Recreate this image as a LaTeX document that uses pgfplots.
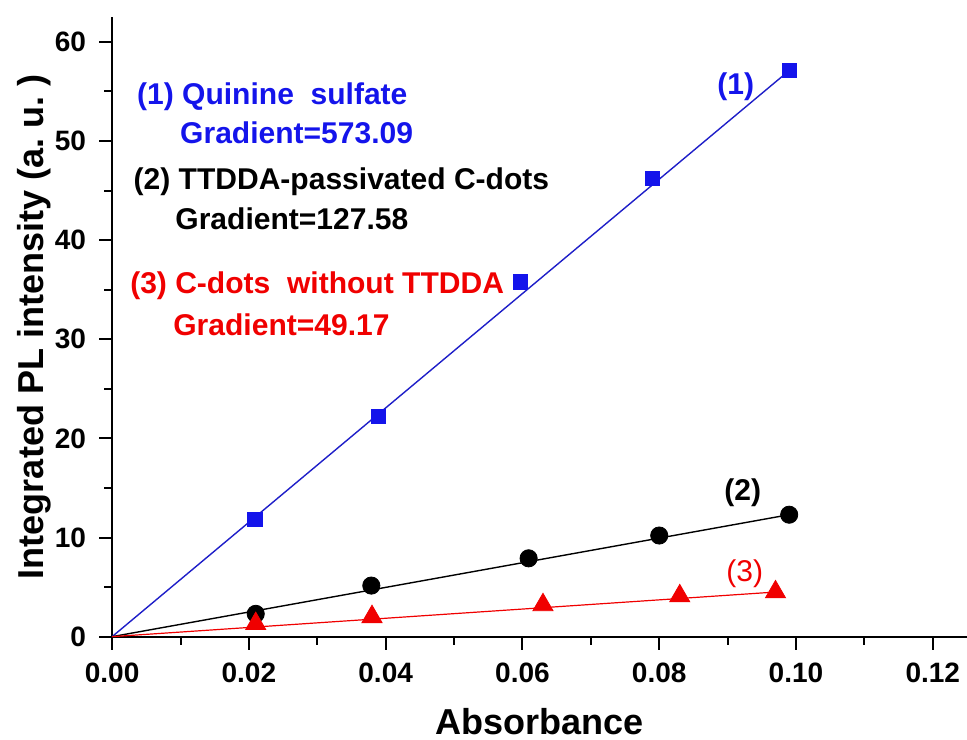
\documentclass[border=0pt]{standalone}
\usepackage{pgfplots}
\pgfplotsset{compat=1.18}
\usepackage{fontspec}
\setmainfont{Liberation Sans}
\definecolor{qblue}{RGB}{20,20,235}
\definecolor{lblue}{RGB}{30,30,200}
\definecolor{qred}{RGB}{240,0,0}
\begin{document}
\begin{tikzpicture}
\begin{axis}[
  scale only axis,
  width=427pt, height=309.5pt,
  xmin=0, xmax=0.125, ymin=0, ymax=62.5,
  axis x line=bottom, axis y line=left,
  axis line style={-, line width=1pt},
  xtick={0,0.02,0.04,0.06,0.08,0.10,0.12},
  xticklabels={0.00,0.02,0.04,0.06,0.08,0.10,0.12},
  ytick={0,10,20,30,40,50,60},
  minor xtick={0.01,0.03,0.05,0.07,0.09,0.11},
  minor ytick={5,15,25,35,45,55},
  tick align=outside,
  major tick length=6.5pt, minor tick length=4pt,
  every tick/.style={black, line width=1pt},
  /pgf/number format/assume math mode=true,
  ticklabel style={font=\fontsize{14}{16}\selectfont\bfseries},
  xticklabel style={yshift=-3pt},
  yticklabel style={xshift=-3pt},
  xlabel={Absorbance},
  ylabel={Integrated PL intensity (a.\ u.\ )},
  label style={font=\fontsize{18}{22}\selectfont\bfseries},
  xlabel style={yshift=-6pt},
  ylabel style={yshift=-5pt},
  clip=false,
]
% fitted lines
\addplot[lblue, line width=0.7pt] coordinates {(0,0) (0.099,57.1)};
\addplot[black, line width=0.7pt] coordinates {(0,0) (0.099,12.3)};
\addplot[qred, line width=0.6pt] coordinates {(0,0) (0.097,4.5)};
% data
\addplot[only marks, mark=square*, mark size=3.6pt, qblue] coordinates {
 (0.0209,11.8) (0.0389,22.2) (0.0597,35.8) (0.079,46.2) (0.099,57.1)};
\addplot[only marks, mark=*, mark size=4.3pt, black] coordinates {
 (0.021,2.3) (0.0379,5.15) (0.0609,7.9) (0.080,10.2) (0.099,12.3)};
\addplot[only marks, mark=triangle*, mark size=5.8pt, qred] coordinates {
 (0.021,1.3) (0.038,2.0) (0.063,3.2) (0.083,4.1) (0.097,4.5)};
% annotations
\begin{scope}[every node/.style={font=\fontsize{15}{18}\selectfont\bfseries, inner sep=0pt, anchor=west}]
\node[text=qblue] at (axis cs:0.0036,54.5) {(1) Quinine\ \ sulfate};
\node[text=qblue] at (axis cs:0.0099,50.8) {Gradient=573.09};
\node[text=black] at (axis cs:0.0031,45.9) {(2) TTDDA-passivated C-dots};
\node[text=black] at (axis cs:0.0092,42.1) {Gradient=127.58};
\node[text=qred] at (axis cs:0.0026,35.4) {(3) C-dots\ \ without TTDDA};
\node[text=qred] at (axis cs:0.0089,31.5) {Gradient=49.17};
\node[text=qblue, anchor=center] at (axis cs:0.0912,55.5) {(1)};
\node[text=black, anchor=center] at (axis cs:0.0922,14.5) {(2)};
\node[text=qred, anchor=center, font=\fontsize{15}{18}\selectfont] at (axis cs:0.0925,6.3) {(3)};
\end{scope}
\end{axis}
\pgfresetboundingbox
\path (current axis.south west) ++(-56pt,-51.5pt) rectangle ([yshift=8.5pt]current axis.north east);
\end{tikzpicture}
\end{document}
